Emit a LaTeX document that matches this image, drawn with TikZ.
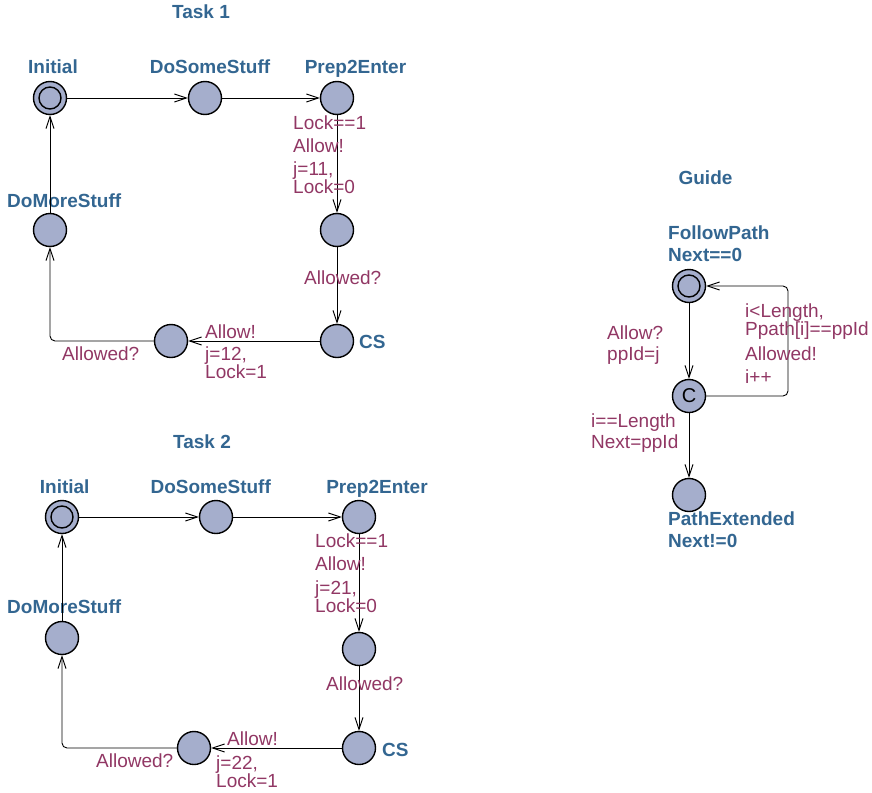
\documentclass[tikz,border=0pt]{standalone}
\usepackage{fontspec}
\setmainfont{Liberation Sans}
\usetikzlibrary{arrows.meta}
\definecolor{locfill}{RGB}{165,174,204}
\definecolor{namecol}{RGB}{51,102,145}
\definecolor{labcol}{RGB}{145,55,100}
\begin{document}
\begin{tikzpicture}[x=1pt,y=-1pt,
  loc/.style={circle,draw=black,fill=locfill,line width=1.4pt,minimum size=33pt,inner sep=0pt},
  initloc/.style={loc,path picture={\draw[line width=1.4pt] (path picture bounding box.center) circle (11pt);}},
  comloc/.style={loc,font=\fontsize{20}{20}\selectfont},
  locname/.style={font=\bfseries\fontsize{19}{22}\selectfont,text=namecol,inner sep=0pt,anchor=base,align=left},
  lab/.style={font=\fontsize{19}{18}\selectfont,text=labcol,inner sep=0pt,anchor=base west,align=left},
  trans/.style={line width=0.9pt,rounded corners=5pt,-{Straight Barb[length=12pt,width=8pt]}}]
\useasboundingbox (0,0) rectangle (872,792);
% multi-line labels are placed by the baseline of their last line

% ---------------- Task 1 ----------------
\node[locname] (t1title) at (201,19) {Task 1};
\node[initloc] (t1init) at (50,98) {};
\node[loc] (t1some) at (205,98) {};
\node[loc] (t1prep) at (337,98) {};
\node[loc] (t1mid)  at (337,230) {};
\node[loc] (t1cs)   at (337,341) {};
\node[loc] (t1bot)  at (171,341) {};
\node[loc] (t1more) at (50,230) {};

\node[locname] (t1ninit) at (53,74) {Initial};
\node[locname] (t1nsome) at (210,74) {DoSomeStuff};
\node[locname] (t1nprep) at (355.5,74) {Prep2Enter};
\node[locname,anchor=base west] (t1nmore) at (7,207) {DoMoreStuff};
\node[locname,anchor=base west] (t1ncs) at (359,348) {CS};

\draw[trans] (t1init) -- (t1some);
\draw[trans] (t1some) -- (t1prep);
\draw[trans] (t1prep) -- (t1mid);
\draw[trans] (t1mid) -- (t1cs);
\draw[trans] (t1cs) -- (t1bot);
\draw[trans] (t1bot.west) -| (t1more.south);
\draw[trans] (t1more) -- (t1init);

\node[lab] (t1g1) at (293,129) {Lock==1};
\node[lab] (t1s1) at (293,152) {Allow!};
\node[lab] (t1u1) at (293,193) {j=11,\\Lock=0};
\node[lab] (t1s2) at (304,284) {Allowed?};
\node[lab] (t1s3) at (205,338) {Allow!};
\node[lab] (t1u3) at (205,378) {j=12,\\Lock=1};
\node[lab] (t1s4) at (62,360) {Allowed?};

% ---------------- Task 2 ----------------
\node[locname] (t2title) at (202,448) {Task 2};
\node[initloc] (t2init) at (62,517) {};
\node[loc] (t2some) at (216,517) {};
\node[loc] (t2prep) at (359,517) {};
\node[loc] (t2mid)  at (359,649) {};
\node[loc] (t2cs)   at (359,748) {};
\node[loc] (t2bot)  at (194,748) {};
\node[loc] (t2more) at (62,638) {};

\node[locname] (t2ninit) at (64.7,493) {Initial};
\node[locname] (t2nsome) at (210.7,493) {DoSomeStuff};
\node[locname] (t2nprep) at (377,493) {Prep2Enter};
\node[locname,anchor=base west] (t2nmore) at (7,613) {DoMoreStuff};
\node[locname,anchor=base west] (t2ncs) at (382,756) {CS};

\draw[trans] (t2init) -- (t2some);
\draw[trans] (t2some) -- (t2prep);
\draw[trans] (t2prep) -- (t2mid);
\draw[trans] (t2mid) -- (t2cs);
\draw[trans] (t2cs) -- (t2bot);
\draw[trans] (t2bot.west) -| (t2more.south);
\draw[trans] (t2more) -- (t2init);

\node[lab] (t2g1) at (315,547) {Lock==1};
\node[lab] (t2s1) at (315,570) {Allow!};
\node[lab] (t2u1) at (315,612) {j=21,\\Lock=0};
\node[lab] (t2s2) at (326,690) {Allowed?};
\node[lab] (t2s3) at (227,745) {Allow!};
\node[lab] (t2u3) at (216,787) {j=22,\\Lock=1};
\node[lab] (t2s4) at (96,767) {Allowed?};

% ---------------- Guide ----------------
\node[locname] (gtitle) at (705.5,184) {Guide};
\node[initloc] (gfp) at (689,286) {};
\node[comloc] (gc) at (689,396) {C};
\node[loc] (gpe) at (689,495) {};
\coordinate (gloop) at (788,396);

\node[locname,anchor=base west] (gnfp) at (668,261) {FollowPath\\Next==0};
\node[locname,anchor=base west] (gnpe) at (668,547) {PathExtended\\Next!=0};

\draw[trans] (gfp) -- (gc);
\draw[trans] (gc) -- (gloop) |- (gfp);
\draw[trans] (gc) -- (gpe);

\node[lab] (gs1) at (607,339) {Allow?};
\node[lab] (gu1) at (607,360) {ppId=j};
\node[lab] (gg2) at (745,335) {i<Length,\\Ppath[i]==ppId};
\node[lab] (gs2) at (745,360) {Allowed!};
\node[lab] (gu2) at (745,383) {i++};
\node[lab] (gg3) at (591,427) {i==Length};
\node[lab] (gu3) at (591,448) {Next=ppId};
\end{tikzpicture}
\end{document}
